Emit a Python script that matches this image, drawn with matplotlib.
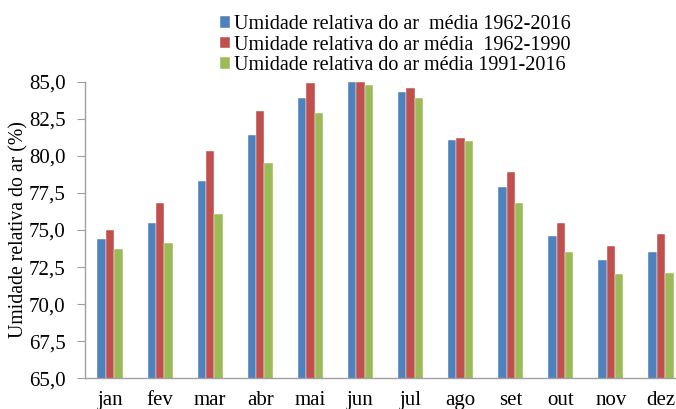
import matplotlib
matplotlib.use("Agg")
import matplotlib.pyplot as plt
import numpy as np

months = ["jan", "fev", "mar", "abr", "mai", "jun", "jul", "ago", "set", "out", "nov", "dez"]
media_1962_2016 = [74.4, 75.5, 78.3, 81.4, 83.9, 85.0, 84.3, 81.1, 77.9, 74.6, 73.0, 73.5]
media_1962_1990 = [75.0, 76.8, 80.3, 83.0, 84.9, 85.0, 84.6, 81.2, 78.9, 75.5, 73.9, 74.7]
media_1991_2016 = [73.7, 74.1, 76.1, 79.5, 82.9, 84.8, 83.9, 81.0, 76.8, 73.5, 72.0, 72.1]
labels = ["Umidade relativa do ar  média 1962-2016",
          "Umidade relativa do ar média  1962-1990",
          "Umidade relativa do ar média 1991-2016"]
yticks = [65.0, 67.5, 70.0, 72.5, 75.0, 77.5, 80.0, 82.5, 85.0]

colors = ["#4F81BD", "#C0504D", "#9BBB59"]
plt.rcParams["font.family"] = ["Liberation Serif", "DejaVu Serif"]

fig = plt.figure(figsize=(6.76, 4.09), dpi=100)
ax = fig.add_axes([85/676, 1-378.3/409, 601/676, 296.6/409])
x = np.arange(len(months))
w = 0.167
series = [media_1962_2016, media_1962_1990, media_1991_2016]
handles = []
for i, (s, c, lab) in enumerate(zip(series, colors, labels)):
    b = ax.bar(x + (i-1)*w, s, width=w, color=c, label=lab,
               edgecolor="white", linewidth=0.3)
    handles.append(b)

ax.set_xlim(-0.5, len(months)-0.5)
ax.set_ylim(65, 85)
ax.set_yticks(yticks)
ax.set_yticklabels([f"{v:.1f}".replace(".", ",") for v in yticks], fontsize=15)
ax.set_xticks(x)
ax.set_xticklabels(months, fontsize=15)
ax.tick_params(axis="x", length=0, pad=9)
ax.tick_params(axis="y", length=6, color="#A0A0A0", pad=8)
for sp in ["top", "right"]:
    ax.spines[sp].set_visible(False)
for sp in ["left", "bottom"]:
    ax.spines[sp].set_color("#A0A0A0")
    ax.spines[sp].set_linewidth(1.0)
ax.set_ylabel("Umidade relativa do ar (%)", fontsize=14.2, labelpad=0)

fig.legend(handles=handles, labels=labels, loc="upper left",
           bbox_to_anchor=(206/676, 1-1/409), frameon=False, fontsize=14.5,
           handlelength=0.5, handleheight=0.5, handletextpad=0.2,
           labelspacing=0.08, borderpad=0.2)

fig.savefig("out.png", dpi=100)
